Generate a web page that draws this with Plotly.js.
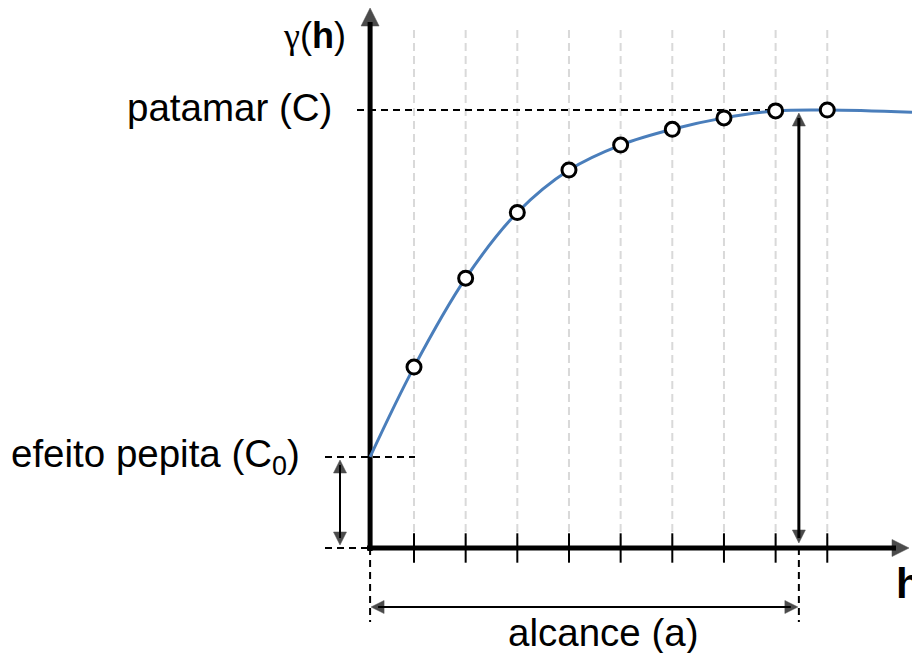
<!DOCTYPE html>
<html><head><meta charset="utf-8">
<script src="https://cdn.plot.ly/plotly-3.0.1.min.js"></script>
<style>html,body{margin:0;padding:0;background:#fff;} #chart{width:912px;height:653px;}</style>
</head><body><div id="chart"></div>
<script>
// ---------- data ----------
const lags = [1, 2, 3, 4, 5, 6, 7, 8, 9];
const gammaObs = [0.413, 0.616, 0.766, 0.863, 0.920, 0.956, 0.982, 0.998, 1.000];
const modelLags = [0.15, 1, 2, 3, 4, 5, 6, 7, 8, 9, 10.64];
const modelGamma = [0.208, 0.413, 0.616, 0.766, 0.863, 0.920, 0.956, 0.982, 0.998, 1.000, 0.995];
const nugget = 0.208;
const sill = 1.0;
const rangeA = 8.45;
const originLag = 0.15;
const labelSill = 'patamar (C)';
const labelNugget = 'efeito pepita (C<sub>0</sub>)';
const labelRange = 'alcance (a)';
const labelY = '<span style="font-family:\'Liberation Serif\',serif">γ</span>(<b>h</b>)';
const labelX = '<b>h</b>';

// ---------- pixel helpers (layout only) ----------
const W = 912, H = 653;
const PX_PER_LAG = 51.66, LAG0_PX = 362.34, PX_PER_G = 438, G0_PX = 548;
const hx = p => (p - LAG0_PX) / PX_PER_LAG;
const gy = q => (G0_PX - q) / PX_PER_G;
const dx = d => d / PX_PER_LAG;
const dy = d => d / PX_PER_G;
const paperX = p => p / W;
const paperY = q => 1 - q / H;

function segs(list) {
  const x = [], y = [];
  list.forEach(s => { x.push(s[0], s[2], null); y.push(s[1], s[3], null); });
  return {x, y};
}

const traces = [];

// grid lines at each lag
const grid = segs(lags.map(l => [l, gy(30), l, 0]));
traces.push({x: grid.x, y: grid.y, mode: 'lines', line: {color: '#d9d9d9', width: 2, dash: '8px,5px'}, hoverinfo: 'skip'});

// dashed reference lines
const dash = segs([
  [hx(357), sill, rangeA, sill],
  [hx(325), nugget, hx(415), nugget],
  [hx(325), 0, originLag, 0],
  [originLag, 0, originLag, gy(622)],
  [rangeA, 0, rangeA, gy(622)]
]);
traces.push({x: dash.x, y: dash.y, mode: 'lines', line: {color: '#000', width: 2, dash: '7px,5px'}, hoverinfo: 'skip'});

// main axes
const axes = segs([
  [originLag, gy(551), originLag, gy(22)],
  [hx(367), 0, hx(896), 0]
]);
traces.push({x: axes.x, y: axes.y, mode: 'lines', line: {color: '#000', width: 5}, hoverinfo: 'skip'});

// ticks
traces.push({x: lags, y: lags.map(() => 0), mode: 'markers',
  marker: {symbol: 'line-ns', size: 21, color: '#000', line: {color: '#000', width: 2}}, hoverinfo: 'skip'});

// model curve
traces.push({x: modelLags, y: modelGamma, mode: 'lines',
  line: {color: '#4a7ebb', width: 3, shape: 'spline', smoothing: 1}, hoverinfo: 'skip'});

// experimental points
traces.push({x: lags, y: gammaObs, mode: 'markers',
  marker: {symbol: 'circle', size: 14, color: '#fff', line: {color: '#000', width: 3}}, hoverinfo: 'skip'});

// arrow shafts
const shaftsThick = segs([[rangeA, sill - dy(8), rangeA, dy(10)]]);
traces.push({x: shaftsThick.x, y: shaftsThick.y, mode: 'lines', line: {color: '#000', width: 3}, hoverinfo: 'skip'});
const shafts = segs([
  [originLag + dx(8), gy(607), rangeA - dx(8), gy(607)],
  [hx(340), nugget - dy(8), hx(340), dy(10)]
]);
traces.push({x: shafts.x, y: shafts.y, mode: 'lines', line: {color: '#000', width: 2}, hoverinfo: 'skip'});

// arrow heads
const heads = [
  [originLag, gy(8), 'arrow-up', 18],
  [hx(909), 0, 'arrow-right', 17],
  [rangeA, gy(113), 'arrow-up', 13],
  [rangeA, gy(543), 'arrow-down', 13],
  [originLag + dx(1), gy(607), 'arrow-left', 13],
  [rangeA - dx(1), gy(607), 'arrow-right', 13],
  [hx(340), gy(460), 'arrow-up', 13],
  [hx(340), gy(545), 'arrow-down', 13]
];
traces.push({x: heads.map(h => h[0]), y: heads.map(h => h[1]), mode: 'markers',
  marker: {symbol: heads.map(h => h[2]), size: heads.map(h => h[3]), color: '#000', line: {color: '#000', width: 0.5}}, hoverinfo: 'skip'});

const font = {family: 'Liberation Sans, Arial, sans-serif', size: 38.5, color: '#000'};
const annotations = [
  {text: labelY, x: paperX(314), y: paperY(35), xanchor: 'center', yanchor: 'middle', font: Object.assign({}, font, {size: 36})},
  {text: labelSill, x: paperX(334), y: paperY(107), xanchor: 'right', yanchor: 'middle'},
  {text: labelNugget, x: paperX(302), y: paperY(456), xanchor: 'right', yanchor: 'middle'},
  {text: labelRange, x: paperX(603), y: paperY(632), xanchor: 'center', yanchor: 'middle'},
  {text: labelX, x: paperX(894), y: paperY(583), xanchor: 'left', yanchor: 'middle', font: Object.assign({}, font, {size: 42})}
].map(a => Object.assign({xref: 'paper', yref: 'paper', showarrow: false, font: font}, a));

const layout = {
  width: W, height: H,
  margin: {l: 0, r: 0, t: 0, b: 0, pad: 0},
  paper_bgcolor: '#fff', plot_bgcolor: '#fff',
  showlegend: false, hovermode: false,
  xaxis: {range: [hx(0), hx(W)], visible: false, fixedrange: true},
  yaxis: {range: [gy(H), gy(0)], visible: false, fixedrange: true},
  annotations: annotations
};

Plotly.newPlot('chart', traces, layout, {displayModeBar: false, staticPlot: true});
</script>
</body></html>
